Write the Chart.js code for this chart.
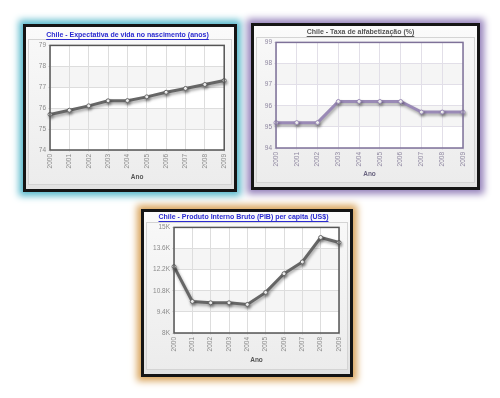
<!DOCTYPE html>
<html>
<head>
<meta charset="utf-8">
<script src="https://cdn.jsdelivr.net/npm/chart.js@4.4.1/dist/chart.umd.min.js"></script>
<style>
  html, body { margin: 0; padding: 0; background: #fff; }
  body { width: 500px; height: 398px; position: relative; overflow: hidden; font-family: Arial, "Liberation Sans", sans-serif; }
  .panel { position: absolute; border: 3px solid #151515; background: linear-gradient(#fbfbfb, #e2e2e2); }
  .inner { position: absolute; border: 1px solid #d4d4d4; background: linear-gradient(#f8f8f8, #ececec); }
  .panel canvas { position: absolute; left: 0; top: 0; }
  #p1 { left: 23px; top: 24px; width: 208px; height: 162px; box-shadow: 0 0 7px 4px #58b9cc; }
  #p2 { left: 251px; top: 23px; width: 223px; height: 161px; box-shadow: 0 0 7px 4px #9582bb; }
  #p3 { left: 141px; top: 209px; width: 206px; height: 162px; box-shadow: 0 0 7px 4px #d9a45c; }
</style>
</head>
<body>
<div class="panel" id="p1"><div class="inner" style="left:2px;top:12px;width:202px;height:144px"></div><canvas id="c1" width="208" height="162"></canvas></div>
<div class="panel" id="p2"><div class="inner" style="left:2px;top:11px;width:217px;height:144px"></div><canvas id="c2" width="223" height="161"></canvas></div>
<div class="panel" id="p3"><div class="inner" style="left:2px;top:10px;width:200px;height:146px"></div><canvas id="c3" width="206" height="162"></canvas></div>
<script>
// ─── Data ─────────────────────────────────────────────────────────────────────
const years = ['2000', '2001', '2002', '2003', '2004', '2005', '2006', '2007', '2008', '2009'];
const lifeExpectancy = [75.70, 75.90, 76.11, 76.35, 76.36, 76.54, 76.76, 76.94, 77.13, 77.32];
const literacyRate = [95.2, 95.2, 95.2, 96.2, 96.2, 96.2, 96.2, 95.7, 95.7, 95.7];
const gdpPerCapita = [12400, 10090, 10000, 10000, 9890, 10690, 11930, 12710, 14330, 14000];

const titles = [
  'Chile - Expectativa de vida no nascimento (anos)',
  'Chile - Taxa de alfabetização (%)',
  'Chile - Produto Interno Bruto (PIB) per capita (US$)'
];
const xTitle = 'Ano';

// ─── Plugins ──────────────────────────────────────────────────────────────────
// white plot area with faint alternating bands, frame and title underline
const plotBg = {
  id: 'plotBg',
  beforeDraw(chart) {
    const { ctx, chartArea: a, scales: { y } } = chart;
    ctx.save();
    ctx.fillStyle = '#ffffff';
    ctx.fillRect(a.left, a.top, a.right - a.left, a.bottom - a.top);
    ctx.fillStyle = '#f5f5f5';
    y.ticks.forEach((t, i) => {
      if (i % 2 === 1 && i < y.ticks.length - 1) {
        const y0 = y.getPixelForValue(t.value);
        const y1 = y.getPixelForValue(y.ticks[i + 1].value);
        ctx.fillRect(a.left, y1, a.right - a.left, y0 - y1);
      }
    });
    ctx.restore();
  },
  afterDraw(chart, args, opts) {
    const { ctx, chartArea: a } = chart;
    ctx.save();
    ctx.strokeStyle = opts.frame;
    ctx.lineWidth = 1.5;
    ctx.strokeRect(a.left, a.top, a.right - a.left, a.bottom - a.top);
    const tb = chart.titleBlock;
    const t = chart.options.plugins.title;
    ctx.font = `bold ${t.font.size}px Arial, "Liberation Sans", sans-serif`;
    const w = ctx.measureText(t.text).width;
    const cx = (tb.left + tb.right) / 2;
    const ly = Math.round(tb.top + t.padding.top + t.font.size + 1) + 0.5;
    ctx.strokeStyle = t.color;
    ctx.lineWidth = 1;
    ctx.beginPath();
    ctx.moveTo(cx - w / 2, ly);
    ctx.lineTo(cx + w / 2, ly);
    ctx.stroke();
    ctx.restore();
  }
};

const lineShadow = {
  id: 'lineShadow',
  beforeDatasetDraw(chart) {
    const ctx = chart.ctx;
    ctx.save();
    ctx.shadowColor = 'rgba(0,0,0,0.35)';
    ctx.shadowBlur = 3;
    ctx.shadowOffsetX = 1;
    ctx.shadowOffsetY = 2;
  },
  afterDatasetDraw(chart) {
    chart.ctx.restore();
  }
};

// ─── Chart factory ────────────────────────────────────────────────────────────
function makeChart(id, cfg) {
  const font = 'Arial, "Liberation Sans", sans-serif';
  return new Chart(document.getElementById(id), {
    type: 'line',
    data: {
      labels: years,
      datasets: [{
        data: cfg.data,
        borderColor: cfg.line,
        borderWidth: 3,
        pointRadius: 2,
        pointBorderWidth: 1,
        pointBackgroundColor: '#ffffff',
        pointBorderColor: cfg.line,
        tension: 0
      }]
    },
    options: {
      responsive: false,
      animation: false,
      layout: { padding: cfg.padding },
      plugins: {
        legend: { display: false },
        tooltip: { enabled: false },
        title: {
          display: true,
          text: cfg.title,
          color: cfg.titleColor,
          font: { family: font, size: 7, weight: 'bold' },
          padding: cfg.titlePad
        },
        plotBg: { frame: cfg.frame }
      },
      scales: {
        x: {
          offset: false,
          grid: { color: cfg.grid, tickLength: 2 },
          border: { display: false },
          ticks: {
            color: cfg.tick, font: { family: font, size: 6.5 },
            minRotation: 90, maxRotation: 90, autoSkip: false, padding: 2
          },
          title: {
            display: true, text: xTitle, color: cfg.axisTitle,
            font: { family: font, size: 6.5, weight: 'bold' }, padding: { top: 3, bottom: 0 }
          },
          afterFit: s => { s.height = cfg.xh; }
        },
        y: {
          min: cfg.min, max: cfg.max,
          grid: { color: cfg.grid, tickLength: 2 },
          border: { display: false },
          ticks: {
            color: cfg.tick, font: { family: font, size: 6.5 }, padding: 2,
            stepSize: cfg.step, callback: cfg.fmt
          },
          afterFit: s => { s.width = cfg.yw; }
        }
      }
    },
    plugins: [plotBg, lineShadow]
  });
}

makeChart('c1', {
  data: lifeExpectancy, title: titles[0], titleColor: '#2a2ad0',
  min: 74, max: 79, step: 1, fmt: v => v,
  line: '#666666', frame: '#555555', grid: '#dddddd', tick: '#8a8a8a', axisTitle: '#555555',
  padding: { left: 4, right: 9, top: 0, bottom: 8 }, titlePad: { top: 4, bottom: 6 },
  yw: 20, xh: 31
});

makeChart('c2', {
  data: literacyRate, title: titles[1], titleColor: '#555555',
  min: 94, max: 99, step: 1, fmt: v => v,
  line: '#9a8ab6', frame: '#7e7198', grid: '#e2dfe8', tick: '#8f87a0', axisTitle: '#6a6480',
  padding: { left: 4, right: 14, top: 0, bottom: 9 }, titlePad: { top: 2, bottom: 6 },
  yw: 18, xh: 30
});

makeChart('c3', {
  data: gdpPerCapita, title: titles[2], titleColor: '#2a2ad0',
  min: 8000, max: 15000, step: 1400, fmt: v => (v / 1000) + 'K',
  line: '#666666', frame: '#555555', grid: '#dddddd', tick: '#8a8a8a', axisTitle: '#555555',
  padding: { left: 4, right: 11, top: 0, bottom: 10 }, titlePad: { top: 1, bottom: 6 },
  yw: 26, xh: 31
});
</script>
</body>
</html>
